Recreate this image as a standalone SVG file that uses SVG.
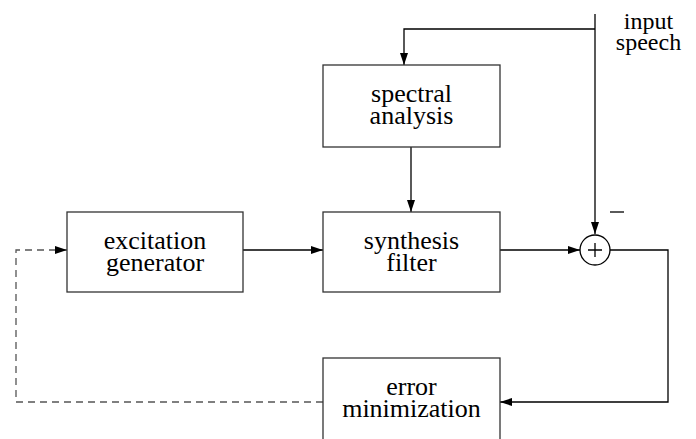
<svg xmlns="http://www.w3.org/2000/svg" width="696" height="439" viewBox="0 0 696 439">
  <style>
    .box { fill: #fff; stroke: #333; stroke-width: 1.3; }
    .wire { fill: none; stroke: #000; stroke-width: 1.3; }
    .dash { fill: none; stroke: #555; stroke-width: 1.3; stroke-dasharray: 7 5; }
  </style>
  <defs>
    <marker id="arr" viewBox="0 0 12 8" refX="12" refY="4" markerWidth="12" markerHeight="8" markerUnits="userSpaceOnUse" orient="auto">
      <path d="M0,0 L12,4 L0,8 Z" fill="#000"/>
    </marker>
  </defs>

  <!-- connectors -->
  <g id="connectors">
    <path class="wire" d="M595,14 V234" marker-end="url(#arr)"/>
    <path class="wire" d="M595,29 H404 V65" marker-end="url(#arr)"/>
    <path class="wire" d="M411,147 V212" marker-end="url(#arr)"/>
    <path class="wire" d="M243,250 H323" marker-end="url(#arr)"/>
    <path class="wire" d="M500,250 H580" marker-end="url(#arr)"/>
    <path class="wire" d="M610,250 H668 V402 H500" marker-end="url(#arr)"/>
    <path class="dash" d="M323,402 H16 V250 H67" marker-end="url(#arr)"/>
  </g>

  <g font-family="Liberation Serif, Times New Roman, DejaVu Serif, serif" font-size="26" text-anchor="middle" fill="#000">
    <g id="spectral-analysis">
      <rect class="box" x="323" y="65" width="177" height="82"/>
      <text x="411.5" y="102">spectral</text>
      <text x="411.5" y="124">analysis</text>
    </g>

    <g id="excitation-generator">
      <rect class="box" x="67" y="212" width="176" height="80"/>
      <text x="155" y="249">excitation</text>
      <text x="155" y="271">generator</text>
    </g>

    <g id="synthesis-filter">
      <rect class="box" x="323" y="212" width="177" height="80"/>
      <text x="411.5" y="249">synthesis</text>
      <text x="411.5" y="271">filter</text>
    </g>

    <g id="error-minimization">
      <rect class="box" x="323" y="358" width="177" height="90"/>
      <text x="411.5" y="395">error</text>
      <text x="411.5" y="417">minimization</text>
    </g>

    <g id="input-speech" font-size="24">
      <text x="648.5" y="29">input</text>
      <text x="648.5" y="50">speech</text>
    </g>
  </g>

  <g id="summer">
    <circle class="wire" cx="595" cy="250" r="15"/>
    <path class="wire" d="M588,250 H602 M595,243 V257"/>
    <path class="wire" d="M610,212 H624"/>
  </g>
</svg>
